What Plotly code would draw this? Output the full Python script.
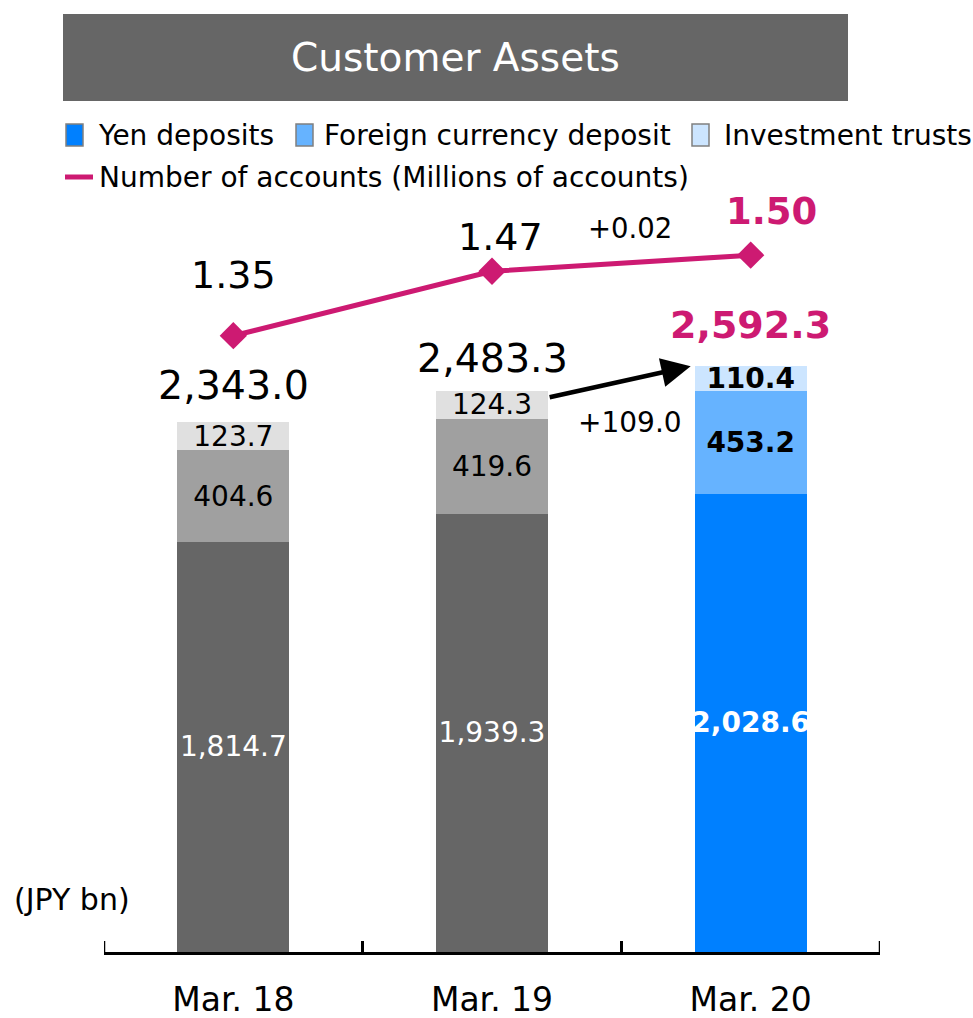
import plotly.graph_objects as go

# ---------------- data ----------------
categories = ["Mar. 18", "Mar. 19", "Mar. 20"]
yen_deposits = [1814.7, 1939.3, 2028.6]
foreign_deposits = [404.6, 419.6, 453.2]
investment_trusts = [123.7, 124.3, 110.4]
totals = [2343.0, 2483.3, 2592.3]
accounts = [1.35, 1.47, 1.50]
accounts_change = "+0.02"
assets_change = "+109.0"

# ---------------- styles ----------------
W, H = 973, 1018
FONT = "DejaVu Sans"
MAGENTA = "#CD1A72"
GRAY_DARK, GRAY_MID, GRAY_LIGHT = "#666666", "#A0A0A0", "#E0E0E0"
BLUE_DARK, BLUE_MID, BLUE_LIGHT = "#0080FF", "#66B3FF", "#CCE5FF"
BAR_W = 0.434

PX_LEFT, PX_RIGHT = 104, 880
PX_TOP, PX_BOTTOM = 200, 952
Y1_PER_PX = 0.226          # px per unit
Y2_PX_PER_UNIT = 537
Y2_ANCHOR_VAL, Y2_ANCHOR_PX = 1.35, 335.7


def px(x):
    return x / W


def py(y):
    return 1 - y / H


y1_max = (PX_BOTTOM - PX_TOP) / Y1_PER_PX
y2_min = Y2_ANCHOR_VAL - (PX_BOTTOM - Y2_ANCHOR_PX) / Y2_PX_PER_UNIT
y2_max = Y2_ANCHOR_VAL + (Y2_ANCHOR_PX - PX_TOP) / Y2_PX_PER_UNIT

last = len(categories) - 1


def colors(gray, blue):
    return [blue if i == last else gray for i in range(len(categories))]


def labels(vals):
    out = []
    for i, v in enumerate(vals):
        s = f"{v:,.1f}"
        out.append(f"<b>{s}</b>" if i == last else s)
    return out


fig = go.Figure()

segments = [
    (yen_deposits, GRAY_DARK, BLUE_DARK, ["white"] * 3),
    (foreign_deposits, GRAY_MID, BLUE_MID, ["black"] * 3),
    (investment_trusts, GRAY_LIGHT, BLUE_LIGHT, ["black"] * 3),
]
for vals, g, b, tc in segments:
    fig.add_trace(go.Bar(
        x=categories, y=vals, width=BAR_W,
        marker=dict(color=colors(g, b), line=dict(width=0)),
        text=labels(vals), textposition="inside", insidetextanchor="middle",
        textangle=0, textfont=dict(family=FONT, size=28, color=tc),
        cliponaxis=False, showlegend=False, hoverinfo="skip",
    ))

fig.add_trace(go.Scatter(
    x=categories, y=accounts, yaxis="y2", mode="lines+markers",
    line=dict(color=MAGENTA, width=5),
    marker=dict(symbol="diamond", size=21, color=MAGENTA),
    showlegend=False, hoverinfo="skip", cliponaxis=False,
))

annotations = []
# totals above bars
total_shift = [37, 33, 41]
for i, (c, t) in enumerate(zip(categories, totals)):
    s = f"{t:,.1f}"
    if i == last:
        txt = f"<b>{s}</b>"
        font = dict(family=FONT, size=38, color=MAGENTA)
    else:
        txt = s
        font = dict(family=FONT, size=39.5, color="black")
    annotations.append(dict(x=c, y=t, xref="x", yref="y", text=txt, showarrow=False,
                            font=font, xanchor="center", yanchor="middle",
                            yshift=total_shift[i]))

# account labels
acc_shift = [(0, 61), (8, 34), (21, 44)]
for i, (c, a) in enumerate(zip(categories, accounts)):
    s = f"{a:.2f}"
    if i == last:
        txt = f"<b>{s}</b>"
        font = dict(family=FONT, size=37, color=MAGENTA)
    else:
        txt = s
        font = dict(family=FONT, size=38, color="black")
    annotations.append(dict(x=c, y=a, xref="x", yref="y2", text=txt, showarrow=False,
                            font=font, xanchor="center", yanchor="middle",
                            xshift=acc_shift[i][0], yshift=acc_shift[i][1]))

# change labels
annotations.append(dict(x=px(630), y=py(228), xref="paper", yref="paper",
                        text=accounts_change, showarrow=False,
                        xanchor="center", yanchor="middle",
                        font=dict(family=FONT, size=27.5, color="black")))
annotations.append(dict(x=px(630), y=py(423), xref="paper", yref="paper",
                        text=assets_change, showarrow=False,
                        xanchor="center", yanchor="middle",
                        font=dict(family=FONT, size=28, color="black")))

# arrow from Mar.19 total to Mar.20 total
annotations.append(dict(x=2 - BAR_W / 2 - 0.015, y=totals[2], xref="x", yref="y",
                        ax=1 + BAR_W / 2, ay=totals[1] - 30, axref="x", ayref="y",
                        text="", showarrow=True, arrowhead=2, arrowsize=1.3,
                        arrowwidth=4.5, arrowcolor="black", standoff=0, startstandoff=0))

# title
annotations.append(dict(x=px(455.5), y=py(57.5), xref="paper", yref="paper",
                        text="Customer Assets", showarrow=False,
                        xanchor="center", yanchor="middle",
                        font=dict(family=FONT, size=39, color="white")))

# unit label
annotations.append(dict(x=px(12), y=py(899), xref="paper", yref="paper",
                        text="(JPY bn)", showarrow=False, xanchor="left", yanchor="middle",
                        font=dict(family=FONT, size=30, color="black")))

# legend
legend_items = [
    ("Yen deposits", BLUE_DARK, 66, 96),
    ("Foreign currency deposit", BLUE_MID, 296, 322),
    ("Investment trusts", BLUE_LIGHT, 692, 722),
]
shapes = [dict(type="rect", xref="paper", yref="paper", x0=px(63), x1=px(848),
               y0=py(101), y1=py(14), fillcolor="#666666", line=dict(width=0), layer="below")]
for name, col, mx, tx in legend_items:
    shapes.append(dict(type="rect", xref="paper", yref="paper", x0=px(mx), x1=px(mx + 17),
                       y0=py(146), y1=py(124), fillcolor=col,
                       line=dict(color="#808080", width=1.5)))
    annotations.append(dict(x=px(tx), y=py(135), xref="paper", yref="paper", text=name,
                            showarrow=False, xanchor="left", yanchor="middle",
                            font=dict(family=FONT, size=28, color="black")))
shapes.append(dict(type="line", xref="paper", yref="paper", x0=px(65), x1=px(93),
                   y0=py(177), y1=py(177), line=dict(color=MAGENTA, width=5)))
annotations.append(dict(x=px(97), y=py(177), xref="paper", yref="paper",
                        text="Number of accounts (Millions of accounts)",
                        showarrow=False, xanchor="left", yanchor="middle",
                        font=dict(family=FONT, size=28, color="black")))

# end ticks of the category axis (boundary ticks at both ends)
for xe in (-0.5, 2.5):
    shapes.append(dict(type="line", xref="x", yref="paper", x0=xe, x1=xe,
                       y0=py(PX_BOTTOM), y1=py(PX_BOTTOM - 11),
                       line=dict(color="black", width=2.5)))

fig.update_layout(
    width=W, height=H,
    autosize=False,
    margin=dict(l=0, r=0, t=0, b=0, autoexpand=False),
    paper_bgcolor="white", plot_bgcolor="white",
    barmode="stack",
    uniformtext=dict(minsize=28, mode="show"),
    font=dict(family=FONT, color="black"),
    xaxis=dict(domain=[px(PX_LEFT), px(PX_RIGHT)], range=[-0.5, 2.5],
               automargin=False,
               showline=True, linecolor="black", linewidth=3,
               ticks="inside", ticklen=11, tickwidth=2.5, tickcolor="black",
               tickson="boundaries", showgrid=False, zeroline=False,
               tickfont=dict(family=FONT, size=33, color="black"),
               ticklabelstandoff=16),
    yaxis=dict(domain=[py(PX_BOTTOM), py(PX_TOP)], range=[0, y1_max], automargin=False,
               visible=False, showgrid=False, zeroline=False),
    yaxis2=dict(domain=[py(PX_BOTTOM), py(PX_TOP)], range=[y2_min, y2_max], automargin=False,
                overlaying="y", visible=False, showgrid=False, zeroline=False),
    annotations=annotations,
    shapes=shapes,
)

fig.write_html("out.html",
               config=dict(displayModeBar=False),
               post_script="document.body.style.margin='0';document.body.style.padding='0';"
                           "document.documentElement.style.overflow='hidden';")
